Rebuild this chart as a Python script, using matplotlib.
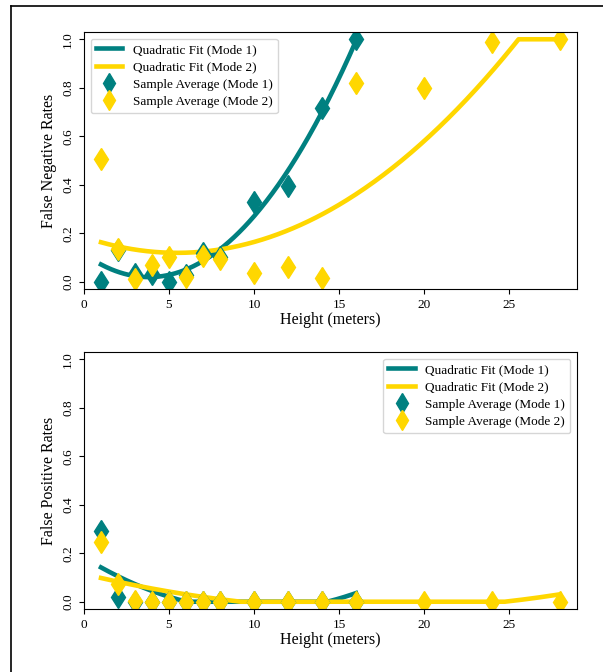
import numpy as np
import matplotlib
matplotlib.use("Agg")
import matplotlib.pyplot as plt
from matplotlib.lines import Line2D

plt.rcParams['font.family'] = ['Liberation Serif', 'DejaVu Serif']

# ---- data ----
heights_m1 = [1, 2, 3, 4, 5, 6, 7, 8, 10, 12, 14, 16]
heights_m2 = [1, 2, 3, 4, 5, 6, 7, 8, 10, 12, 14, 16, 20, 24, 28]

fnr_m1 = [0.0, 0.13, 0.03, 0.03, 0.0, 0.026, 0.12, 0.10, 0.327, 0.393, 0.718, 1.0]
fnr_m2 = [0.505, 0.133, 0.012, 0.067, 0.10, 0.02, 0.108, 0.092, 0.034, 0.06, 0.015, 0.82, 0.797, 0.988, 1.0]

fpr_m1 = [0.29, 0.019, 0.0, 0.0, 0.0, 0.0, 0.0, 0.0, 0.0, 0.0, 0.0, 0.0]
fpr_m2 = [0.247, 0.074, 0.005, 0.0, 0.0, 0.0, 0.0, 0.0, 0.0, 0.0, 0.0, 0.0, 0.0, 0.0, 0.0]

TEAL = '#008080'
GOLD = '#FFD700'

fig = plt.figure(figsize=(6.03, 6.72), dpi=100)
ax1 = fig.add_axes([84/603, 1-289/672, (577-84)/603, (289-32)/672])
ax2 = fig.add_axes([84/603, 1-609/672, (577-84)/603, (609-352)/672])

def draw(ax, x1, y1, x2, y2, ylabel, legloc):
    for x, y, c, lab in [(x1, y1, TEAL, 'Quadratic Fit (Mode 1)'),
                         (x2, y2, GOLD, 'Quadratic Fit (Mode 2)')]:
        coef = np.polyfit(x, y, 2)
        xs = np.linspace(min(x), max(x), 300)
        ys = np.clip(np.polyval(coef, xs), 0, 1)
        ax.plot(xs, ys, color=c, lw=3.3, label=lab)
    ax.plot(x1, y1, 'd', color=TEAL, ms=11.5, ls='none', label='Sample Average (Mode 1)')
    ax.plot(x2, y2, 'd', color=GOLD, ms=11.5, ls='none', label='Sample Average (Mode 2)')
    ax.set_xlim(0, 29)
    ax.set_ylim(-0.03, 1.03)
    ax.set_xticks([0, 5, 10, 15, 20, 25])
    ax.set_yticks([0.0, 0.2, 0.4, 0.6, 0.8, 1.0])
    ax.set_yticklabels(['0.0', '0.2', '0.4', '0.6', '0.8', '1.0'], rotation=90, va='center')
    ax.tick_params(labelsize=9.5)
    ax.set_xlabel('Height (meters)', fontsize=11.5, labelpad=1)
    ax.set_ylabel(ylabel, fontsize=11.5)
    ax.legend(loc=legloc, fontsize=9.5, labelspacing=0.38, markerscale=0.9)

draw(ax1, heights_m1, fnr_m1, heights_m2, fnr_m2, 'False Negative Rates', 'upper left')
draw(ax2, heights_m1, fpr_m1, heights_m2, fpr_m2, 'False Positive Rates', 'upper right')

fig.add_artist(Line2D([11/603, 11/603], [0, 1-6/672], color='black', lw=1.2, transform=fig.transFigure))
fig.add_artist(Line2D([11/603, 1], [1-6/672, 1-6/672], color='black', lw=1.2, transform=fig.transFigure))

fig.savefig('out.png', dpi=100)
